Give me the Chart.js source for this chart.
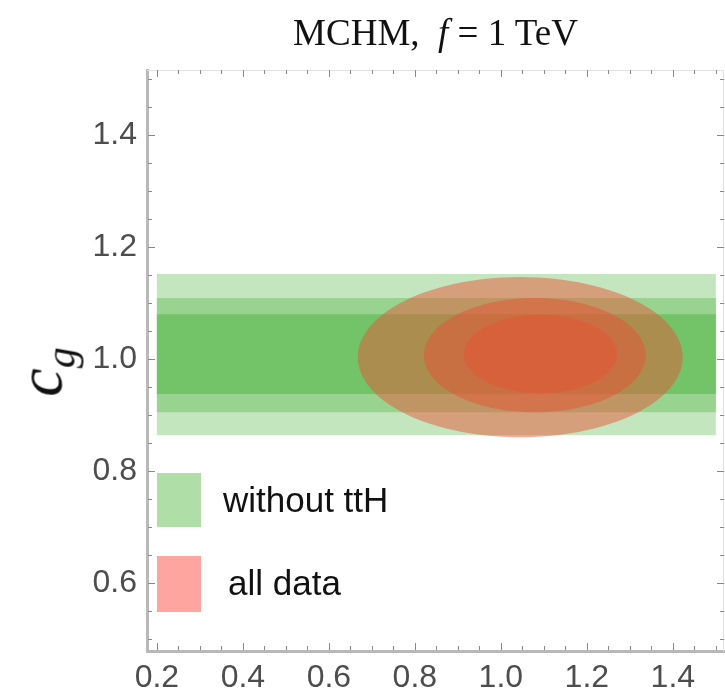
<!DOCTYPE html>
<html>
<head>
<meta charset="utf-8">
<script src="https://cdn.jsdelivr.net/npm/chart.js@4.4.1/dist/chart.umd.min.js"></script>
<style>
  body { margin: 0; background: #fff; }
  #wrap { position: relative; width: 725px; height: 693px; }
  #title { position: absolute; left: 147px; width: 577px; top: 32px; transform: translateY(-50%); text-align: center;
           font-family: "Liberation Serif", serif; font-size: 37px; color: #111; white-space: pre; }
  #ylab { position: absolute; left: 44px; top: 372px; transform: translate(-50%, -50%) rotate(-90deg);
          font-family: "Liberation Serif", serif; font-style: italic; font-size: 64px; color: #111; white-space: nowrap; }
  #ylab sub { font-size: 42px; vertical-align: -13px; }
  .box { position: absolute; left: 157px; width: 44px; }
  .lt { position: absolute; font-family: "Liberation Sans", sans-serif; font-size: 35px; color: #111;
        transform: translateY(-50%); white-space: nowrap; }
</style>
</head>
<body>
<div id="wrap">
  <canvas id="chart"></canvas>
  <div id="title">MCHM,  <i>f</i> = 1 TeV</div>
  <div id="ylab">c<sub>g</sub></div>
  <div class="box" style="top:473px;height:54px;background:#afdfa6"></div>
  <div class="lt" style="left:223px;top:500px">without ttH</div>
  <div class="box" style="top:556px;height:56px;background:#ffa5a0"></div>
  <div class="lt" style="left:228px;top:583px">all data</div>
</div>
<script>
// axis ticks
const xTicks = [0.2, 0.4, 0.6, 0.8, 1.0, 1.2, 1.4];
const yTicks = [0.6, 0.8, 1.0, 1.2, 1.4];

// green bands (without ttH): x extent and [low, high] for each confidence level
const bandX = [0.2, 1.5];
const bandOuter = [0.864, 1.152];
const bandMiddle = [0.905, 1.109];
const bandInner = [0.9375, 1.080];

// red ellipses (all data): [cx, cy, rx, ry]
const ellOuter = [1.045, 1.0035, 0.378, 0.143];
const ellMiddle = [1.079, 1.007, 0.258, 0.102];
const ellInner = [1.092, 1.009, 0.178, 0.070];

function rect(xr, yr) {
  return [
    { x: xr[0], y: yr[0] }, { x: xr[1], y: yr[0] },
    { x: xr[1], y: yr[1] }, { x: xr[0], y: yr[1] }, { x: xr[0], y: yr[0] }
  ];
}

function ellipse(e) {
  const pts = [];
  for (let i = 0; i <= 120; i++) {
    const t = i / 120 * Math.PI * 2;
    pts.push({ x: e[0] + e[2] * Math.cos(t), y: e[1] + e[3] * Math.sin(t) });
  }
  return pts;
}

function shape(data, color) {
  return { data: data, showLine: true, fill: 'shape', backgroundColor: color,
           borderWidth: 0, pointRadius: 0, tension: 0 };
}

const red = 'rgba(232, 82, 52, 0.48)';

// minor ticks every 0.05
function minors(lo, hi) {
  const out = [];
  for (let v = Math.ceil(lo * 20); v <= Math.floor(hi * 20); v++) out.push(v / 20);
  return out;
}

const frameTicks = {
  id: 'frameTicks',
  afterDraw(chart) {
    const { ctx, chartArea: a, scales: { x, y } } = chart;
    ctx.save();
    ctx.strokeStyle = '#e2e2e2';
    ctx.lineWidth = 1;
    ctx.beginPath();
    ctx.moveTo(a.left, a.top + 0.5); ctx.lineTo(a.right, a.top + 0.5);
    ctx.moveTo(a.right - 0.5, a.top); ctx.lineTo(a.right - 0.5, a.bottom);
    ctx.stroke();
    ctx.strokeStyle = '#888';
    ctx.beginPath();
    minors(x.min, x.max).forEach(v => {
      const px = Math.round(x.getPixelForValue(v)) + 0.5;
      const len = xTicks.some(t => Math.abs(t - v) < 1e-6) ? 7 : 4;
      ctx.moveTo(px, a.bottom - 1); ctx.lineTo(px, a.bottom - 1 - len);
      ctx.moveTo(px, a.top); ctx.lineTo(px, a.top + len);
    });
    minors(y.min, y.max).forEach(v => {
      const py = Math.round(y.getPixelForValue(v)) + 0.5;
      const len = yTicks.some(t => Math.abs(t - v) < 1e-6) ? 7 : 4;
      ctx.moveTo(a.left + 1, py); ctx.lineTo(a.left + 1 + len, py);
      ctx.moveTo(a.right, py); ctx.lineTo(a.right - len, py);
    });
    ctx.stroke();
    ctx.restore();
  }
};

const tickFont = { family: '"Liberation Sans", sans-serif', size: 32 };

new Chart(document.getElementById('chart'), {
  type: 'scatter',
  data: {
    datasets: [
      shape(ellipse(ellInner), red),
      shape(ellipse(ellMiddle), red),
      shape(ellipse(ellOuter), red),
      shape(rect(bandX, bandInner), '#73c469'),
      shape(rect(bandX, bandMiddle), '#98d38f'),
      shape(rect(bandX, bandOuter), '#c4e6bf')
    ]
  },
  options: {
    responsive: true,
    maintainAspectRatio: false,
    animation: false,
    layout: { padding: { top: 70, right: 1, left: 0, bottom: 0 } },
    plugins: { legend: { display: false }, tooltip: { enabled: false }, title: { display: false } },
    scales: {
      x: {
        type: 'linear', min: 0.177, max: 1.519,
        afterBuildTicks: s => { s.ticks = xTicks.map(v => ({ value: v })); },
        afterFit: s => { s.height = 42; },
        grid: { display: false, drawTicks: false },
        border: { color: '#b8b8b8', width: 3 },
        ticks: { font: tickFont, color: '#4d4d4d', padding: 8, maxRotation: 0,
                 callback: v => v.toFixed(1) }
      },
      y: {
        type: 'linear', min: 0.479, max: 1.516,
        afterBuildTicks: s => { s.ticks = yTicks.map(v => ({ value: v })); },
        afterFit: s => { s.width = 147; },
        grid: { display: false, drawTicks: false },
        border: { color: '#b8b8b8', width: 3 },
        ticks: { font: tickFont, color: '#4d4d4d', padding: 10,
                 callback: v => v.toFixed(1) }
      }
    }
  },
  plugins: [frameTicks]
});
</script>
</body>
</html>
